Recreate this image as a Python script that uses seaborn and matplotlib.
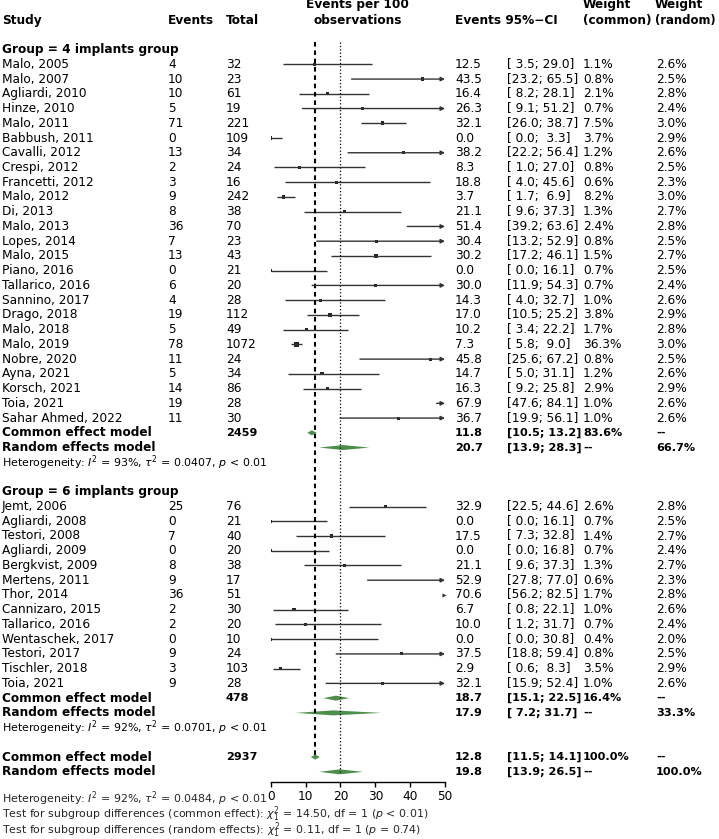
import matplotlib
matplotlib.use("Agg")
import matplotlib.pyplot as plt
import matplotlib.transforms as mtransforms
import numpy as np
import pandas as pd
import seaborn as sns

# ---- données : groupe 4 implants ----
g4_study = ["Malo, 2005", "Malo, 2007", "Agliardi, 2010", "Hinze, 2010", "Malo, 2011",
            "Babbush, 2011", "Cavalli, 2012", "Crespi, 2012", "Francetti, 2012", "Malo, 2012",
            "Di, 2013", "Malo, 2013", "Lopes, 2014", "Malo, 2015", "Piano, 2016",
            "Tallarico, 2016", "Sannino, 2017", "Drago, 2018", "Malo, 2018", "Malo, 2019",
            "Nobre, 2020", "Ayna, 2021", "Korsch, 2021", "Toia, 2021", "Sahar Ahmed, 2022"]
g4_events = [4, 10, 10, 5, 71, 0, 13, 2, 3, 9, 8, 36, 7, 13, 0, 6, 4, 19, 5, 78, 11, 5, 14, 19, 11]
g4_total = [32, 23, 61, 19, 221, 109, 34, 24, 16, 242, 38, 70, 23, 43, 21, 20, 28, 112, 49, 1072,
            24, 34, 86, 28, 30]
g4_est = [12.5, 43.5, 16.4, 26.3, 32.1, 0.0, 38.2, 8.3, 18.8, 3.7, 21.1, 51.4, 30.4, 30.2, 0.0,
          30.0, 14.3, 17.0, 10.2, 7.3, 45.8, 14.7, 16.3, 67.9, 36.7]
g4_lo = [3.5, 23.2, 8.2, 9.1, 26.0, 0.0, 22.2, 1.0, 4.0, 1.7, 9.6, 39.2, 13.2, 17.2, 0.0,
         11.9, 4.0, 10.5, 3.4, 5.8, 25.6, 5.0, 9.2, 47.6, 19.9]
g4_hi = [29.0, 65.5, 28.1, 51.2, 38.7, 3.3, 56.4, 27.0, 45.6, 6.9, 37.3, 63.6, 52.9, 46.1, 16.1,
         54.3, 32.7, 25.2, 22.2, 9.0, 67.2, 31.1, 25.8, 84.1, 56.1]
g4_wc = [1.1, 0.8, 2.1, 0.7, 7.5, 3.7, 1.2, 0.8, 0.6, 8.2, 1.3, 2.4, 0.8, 1.5, 0.7,
         0.7, 1.0, 3.8, 1.7, 36.3, 0.8, 1.2, 2.9, 1.0, 1.0]
g4_wr = [2.6, 2.5, 2.8, 2.4, 3.0, 2.9, 2.6, 2.5, 2.3, 3.0, 2.7, 2.8, 2.5, 2.7, 2.5,
         2.4, 2.6, 2.9, 2.8, 3.0, 2.5, 2.6, 2.9, 2.6, 2.6]

# ---- données : groupe 6 implants ----
g6_study = ["Jemt, 2006", "Agliardi, 2008", "Testori, 2008", "Agliardi, 2009", "Bergkvist, 2009",
            "Mertens, 2011", "Thor, 2014", "Cannizaro, 2015", "Tallarico, 2016", "Wentaschek, 2017",
            "Testori, 2017", "Tischler, 2018", "Toia, 2021"]
g6_events = [25, 0, 7, 0, 8, 9, 36, 2, 2, 0, 9, 3, 9]
g6_total = [76, 21, 40, 20, 38, 17, 51, 30, 20, 10, 24, 103, 28]
g6_est = [32.9, 0.0, 17.5, 0.0, 21.1, 52.9, 70.6, 6.7, 10.0, 0.0, 37.5, 2.9, 32.1]
g6_lo = [22.5, 0.0, 7.3, 0.0, 9.6, 27.8, 56.2, 0.8, 1.2, 0.0, 18.8, 0.6, 15.9]
g6_hi = [44.6, 16.1, 32.8, 16.8, 37.3, 77.0, 82.5, 22.1, 31.7, 30.8, 59.4, 8.3, 52.4]
g6_wc = [2.6, 0.7, 1.4, 0.7, 1.3, 0.6, 1.7, 1.0, 0.7, 0.4, 0.8, 3.5, 1.0]
g6_wr = [2.8, 2.5, 2.7, 2.4, 2.7, 2.3, 2.8, 2.6, 2.4, 2.0, 2.5, 2.9, 2.6]

# ---- modèles résumés : [total, est, lo, hi, w_common, w_random] ----
g4_common = [2459, 11.8, 10.5, 13.2, "83.6%", "--"]
g4_random = ["", 20.7, 13.9, 28.3, "--", "66.7%"]
g6_common = [478, 18.7, 15.1, 22.5, "16.4%", "--"]
g6_random = ["", 17.9, 7.2, 31.7, "--", "33.3%"]
all_common = [2937, 12.8, 11.5, 14.1, "100.0%", "--"]
all_random = ["", 19.8, 13.9, 26.5, "--", "100.0%"]

g4_het = r"Heterogeneity: $I^2$ = 93%, $\tau^2$ = 0.0407, $p$ < 0.01"
g6_het = r"Heterogeneity: $I^2$ = 92%, $\tau^2$ = 0.0701, $p$ < 0.01"
all_het = r"Heterogeneity: $I^2$ = 92%, $\tau^2$ = 0.0484, $p$ < 0.01"
test_common = r"Test for subgroup differences (common effect): $\chi^2_1$ = 14.50, df = 1 ($p$ < 0.01)"
test_random = r"Test for subgroup differences (random effects): $\chi^2_1$ = 0.11, df = 1 ($p$ = 0.74)"

x_ticks = [0, 10, 20, 30, 40, 50]

# ---- mise en page ----
sns.set_theme(style="white")
plt.rcParams["font.family"] = ["DejaVu Sans"]
plt.rcParams["mathtext.fontset"] = "dejavusans"

W, H = 719, 839
FS = 8.7
FS_BNUM = 8.1   # chiffres en gras (plus étroits)
FS_SMALL = 7.9
GREEN = "#4E8E4C"

ROW0 = 20.1   # y (px) de la ligne d'en-tête
STEP = 14.74  # hauteur d'une ligne (px)
AX_L, AX_R, AX_B = 270.7, 445.0, 781.7

fig = plt.figure(figsize=(W / 100, H / 100), dpi=100)
ax = fig.add_axes([AX_L / W, 1 - AX_B / H, (AX_R - AX_L) / W, AX_B / H])

px = mtransforms.Affine2D().scale(1 / W, 1 / H) + fig.transFigure
trans = mtransforms.blended_transform_factory(px, ax.transData)


def put(x, row, s, bold=False, size=FS, ha="left"):
    ax.text(x, row, s, transform=trans, ha=ha, va="center", fontsize=size,
            fontweight="bold" if bold else "normal", color="black", clip_on=False)


def ci(lo, hi):
    return f"[{lo:4.1f}; {hi:4.1f}]"


df4 = pd.DataFrame({"study": g4_study, "events": g4_events, "total": g4_total, "est": g4_est,
                    "lo": g4_lo, "hi": g4_hi, "wc": g4_wc, "wr": g4_wr})
df4["row"] = np.arange(3, 3 + len(df4))
df6 = pd.DataFrame({"study": g6_study, "events": g6_events, "total": g6_total, "est": g6_est,
                    "lo": g6_lo, "hi": g6_hi, "wc": g6_wc, "wr": g6_wr})
df6["row"] = np.arange(33, 33 + len(df6))
df = pd.concat([df4, df6], ignore_index=True)

# en-têtes
put(2, 0, "Study", bold=True)
put(168, 0, "Events", bold=True)
put(226, 0, "Total", bold=True)
put(357.9, -1.03, "Events per 100", bold=True, ha="center")
put(357.9, 0, "observations", bold=True, ha="center")
put(455, 0, "Events 95%\u2212CI", bold=True)
put(583, -1.03, "Weight", bold=True)
put(583, 0, "(common)", bold=True)
put(655, -1.03, "Weight", bold=True)
put(655, 0, "(random)", bold=True, size=8.4)

put(2, 2, "Group = 4 implants group", bold=True)
put(2, 32, "Group = 6 implants group", bold=True)

# lignes des études
for _, r in df.iterrows():
    y = r["row"]
    put(2, y, r["study"])
    put(168, y, str(r["events"]))
    put(226, y, str(r["total"]))
    put(455, y, f"{r['est']:.1f}")
    put(507, y, ci(r["lo"], r["hi"]))
    put(583, y, f"{r['wc']:.1f}%")
    put(656, y, f"{r['wr']:.1f}%")
    if r["lo"] >= 50:
        ax.plot([49.6], [y], marker=">", ms=3, color="0.2", mew=0, clip_on=False)
    elif r["hi"] > 50:
        ax.annotate("", xy=(50, y), xytext=(r["lo"], y),
                    arrowprops=dict(arrowstyle="-|>", color="0.2", lw=1,
                                    mutation_scale=6, shrinkA=0, shrinkB=0))
    else:
        ax.plot([r["lo"], r["hi"]], [y, y], color="0.2", lw=1, solid_capstyle="butt")

sns.scatterplot(data=df[df["est"] <= 50], x="est", y="row", size="wc", sizes=(5, 14),
                marker="s", color="0.15", linewidth=0, legend=False, ax=ax)

# modèles résumés
summaries = [(28, "Common effect model", g4_common), (29, "Random effects model", g4_random),
             (46, "Common effect model", g6_common), (47, "Random effects model", g6_random),
             (50, "Common effect model", all_common), (51, "Random effects model", all_random)]
for y, label, (tot, est, lo, hi, wc, wr) in summaries:
    put(2, y, label, bold=True)
    put(226, y, str(tot), bold=True, size=FS_BNUM)
    put(455, y, f"{est:.1f}", bold=True, size=FS_BNUM)
    put(507, y, ci(lo, hi), bold=True, size=FS_BNUM)
    put(583, y, wc, bold=True, size=FS_BNUM)
    put(656, y, wr, bold=True, size=FS_BNUM)
    h = 0.17
    ax.fill([lo, est, hi, est], [y, y - h, y, y + h], color=GREEN, lw=0)

put(2, 30, g4_het, size=FS_SMALL)
put(2, 48, g6_het, size=FS_SMALL)

# lignes verticales (effet commun / aléatoire)
ax.plot([all_common[1]] * 2, [1.5, 50], color="black", lw=1.5, dashes=(2.2, 1.8))
ax.plot([all_random[1]] * 2, [1.5, 51], color="black", lw=0.9, dashes=(1, 1.7))

# axe
ax.set_xlim(0, 50)
ax.set_ylim((AX_B - ROW0) / STEP, -ROW0 / STEP)
ax.set_xticks(x_ticks)
ax.set_xticklabels([str(t) for t in x_ticks])
ax.set_yticks([])
ax.set_xlabel("")
ax.set_ylabel("")
for side in ["left", "top", "right"]:
    ax.spines[side].set_visible(False)
ax.spines["bottom"].set_color("black")
ax.spines["bottom"].set_linewidth(1)
ax.spines["bottom"].set_bounds(0, 50)
ax.tick_params(axis="x", direction="out", length=3.8, width=1, colors="black",
               labelsize=FS, pad=2.5, bottom=True)
ax.patch.set_alpha(0)

fig.text(2 / W, 1 - 799 / H, all_het, fontsize=FS_SMALL, va="center")
fig.text(2 / W, 1 - 814.5 / H, test_common, fontsize=FS_SMALL, va="center")
fig.text(2 / W, 1 - 830 / H, test_random, fontsize=FS_SMALL, va="center")

fig.savefig("out.png", dpi=100, facecolor="white")
